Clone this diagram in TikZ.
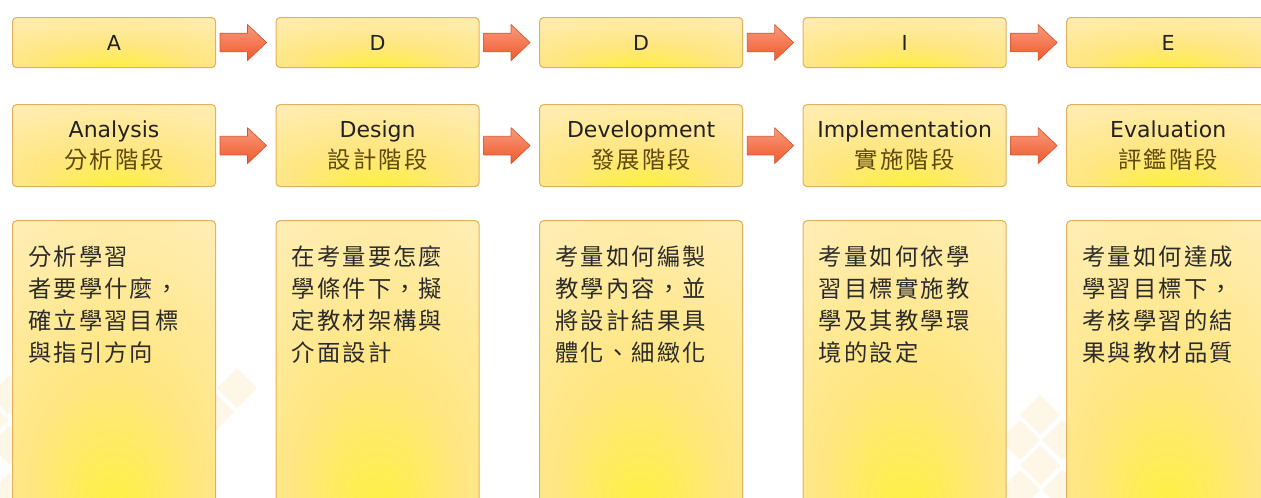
\documentclass[tikz,border=0pt]{standalone}
\usepackage{fontspec}
\setmainfont{DejaVu Sans}
\newfontfamily\cjk[LetterSpace=9]{Noto Sans CJK TC}
\usetikzlibrary{positioning,calc}

\definecolor{boxline}{HTML}{E2B15C}
\definecolor{glowin}{HTML}{FFF23C}
\definecolor{glowmid}{HTML}{FFE680}
\definecolor{glowedge}{HTML}{FFEDB2}
\definecolor{glowout}{HTML}{FFF7E0}
\definecolor{arrowtop}{HTML}{F89A7C}
\definecolor{arrowbot}{HTML}{EF5A2C}
\definecolor{arrowline}{HTML}{D65432}
\definecolor{phasebrown}{HTML}{5E4A10}
\definecolor{lettergray}{HTML}{222222}
\definecolor{notegray}{HTML}{2C2C2C}
\definecolor{tilecolor}{HTML}{FEF6E6}

\pgfdeclareradialshading{boxglow}{\pgfpoint{0bp}{-28bp}}{color(0bp)=(glowin); color(20bp)=(glowmid); color(45bp)=(glowedge); color(70bp)=(glowout); color(100bp)=(glowout)}

% arrow between two neighbouring stage boxes
\newcommand{\stagearrow}[2]{%
  \shadedraw[arrowshape] ($(#1.east)+(3pt,-7pt)$) -- ($(#2.west)+(-21pt,-7pt)$)
    -- ($(#2.west)+(-21pt,-13.5pt)$) -- ($(#2.west)+(-6.75pt,0pt)$)
    -- ($(#2.west)+(-21pt,13.5pt)$) -- ($(#2.west)+(-21pt,7pt)$)
    -- ($(#1.east)+(3pt,7pt)$) -- cycle;}
\newcommand{\phasecn}[1]{{\cjk\fontsize{17.5}{23.25}\selectfont\color{phasebrown}#1}}

\begin{document}
\begin{tikzpicture}[x=0.75pt, y=-0.75pt,
  stage/.style={draw=boxline, line width=0.8pt, rounded corners=3pt, shade, shading=boxglow, minimum width=152.25pt, inner sep=0pt},
  letterbox/.style={stage, minimum height=37.5pt, text=lettergray, font=\fontsize{15.5}{18}\selectfont},
  phasebox/.style={stage, minimum height=61.5pt, align=center, text=lettergray, font=\fontsize{16.5}{23.25}\selectfont},
  notebox/.style={stage, minimum height=215pt},
  notetext/.style={inner sep=0pt, align=left, text=notegray, font=\cjk\fontsize{17.5}{24}\selectfont},
  arrowshape/.style={top color=arrowtop, bottom color=arrowbot, draw=arrowline, line width=0.5pt, line join=round},
  tile/.style={fill=tilecolor}]

  \useasboundingbox (0,0) rectangle (1261,497);
  \clip (0,0) rectangle (1261,497);

  % faint background tiles
  \foreach \cx/\cy in {237/388, 214/412, 10/395, 10/445, -12/420, 33/420, 33/470, 10/492,
                       1040/415, 1020/440, 1040/465, 1020/490, 1062/440, 1062/490}
    \fill[tile] (\cx,\cy) +(-20,0) -- +(0,-20) -- +(20,0) -- +(0,20) -- cycle;

  \node[letterbox, anchor=north west] (Ak) at (12,17) {A};
  \node[letterbox, right = 44.6pt of Ak] (Dk) {D};
  \node[letterbox, right = 44.6pt of Dk] (Vk) {D};
  \node[letterbox, right = 44.6pt of Vk] (Ik) {I};
  \node[letterbox, right = 44.6pt of Ik] (Ek) {E};

  \node[phasebox, below = 27pt of Ak] (Ap) {Analysis\\\phasecn{分析階段}};
  \node[phasebox, below = 27pt of Dk] (Dp) {Design\\\phasecn{設計階段}};
  \node[phasebox, below = 27pt of Vk] (Vp) {Development\\\phasecn{發展階段}};
  \node[phasebox, below = 27pt of Ik] (Ip) {Implementation\\\phasecn{實施階段}};
  \node[phasebox, below = 27pt of Ek] (Ep) {Evaluation\\\phasecn{評鑑階段}};

  \node[notebox, below = 24.75pt of Ap] (At) {};
  \node[notebox, below = 24.75pt of Dp] (Dt) {};
  \node[notebox, below = 24.75pt of Vp] (Vt) {};
  \node[notebox, below = 24.75pt of Ip] (It) {};
  \node[notebox, below = 24.75pt of Ep] (Et) {};

  \node[notetext, below right = 19pt and 12pt of At.north west] (An) {分析學習\\者要學什麼，\\確立學習目標\\與指引方向};
  \node[notetext, below right = 19pt and 12pt of Dt.north west] (Dn) {在考量要怎麼\\學條件下，擬\\定教材架構與\\介面設計};
  \node[notetext, below right = 19pt and 12pt of Vt.north west] (Vn) {考量如何編製\\教學內容，並\\將設計結果具\\體化、細緻化};
  \node[notetext, below right = 19pt and 12pt of It.north west] (In) {考量如何依學\\習目標實施教\\學及其教學環\\境的設定};
  \node[notetext, below right = 19pt and 12pt of Et.north west] (En) {考量如何達成\\學習目標下，\\考核學習的結\\果與教材品質};

  \stagearrow{Ak}{Dk}
  \stagearrow{Dk}{Vk}
  \stagearrow{Vk}{Ik}
  \stagearrow{Ik}{Ek}

  \stagearrow{Ap}{Dp}
  \stagearrow{Dp}{Vp}
  \stagearrow{Vp}{Ip}
  \stagearrow{Ip}{Ep}

\end{tikzpicture}
\end{document}
